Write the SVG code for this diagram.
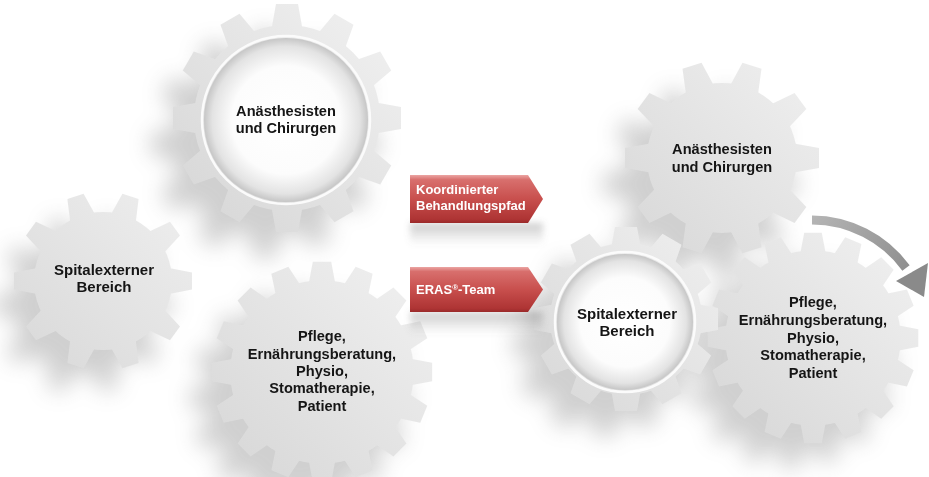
<svg xmlns="http://www.w3.org/2000/svg" width="929" height="477" viewBox="0 0 929 477">
<style>
.lbl{font-family:"Liberation Sans",Arial,Helvetica,sans-serif;font-weight:bold;font-size:14.6px;fill:#151515;text-anchor:middle}
.lbl15{font-size:15px}
.alb{font-family:"Liberation Sans",Arial,Helvetica,sans-serif;font-weight:bold;font-size:13px;fill:#ffffff}
.gearface{fill:url(#gearFill)}
</style>
<defs>
  <linearGradient id="gearFill" gradientUnits="userSpaceOnUse" x1="-90" y1="90" x2="90" y2="-90">
    <stop offset="0" stop-color="#d8d8d8"/>
    <stop offset="1" stop-color="#efefef"/>
  </linearGradient>
  <radialGradient id="dish" cx="0.5" cy="0.5" r="0.5">
    <stop offset="0" stop-color="#ffffff"/>
    <stop offset="0.66" stop-color="#fcfcfc"/>
    <stop offset="0.9" stop-color="#e3e3e3"/>
    <stop offset="1" stop-color="#c6c6c6"/>
  </radialGradient>
  <linearGradient id="red" x1="0" y1="0" x2="0" y2="1">
    <stop offset="0" stop-color="#eba5a3"/>
    <stop offset="0.1" stop-color="#d86f6d"/>
    <stop offset="0.5" stop-color="#c84f4d"/>
    <stop offset="0.92" stop-color="#ae3434"/>
    <stop offset="1" stop-color="#9a2a2a"/>
  </linearGradient>
  <linearGradient id="refl" x1="0" y1="0" x2="0" y2="1">
    <stop offset="0" stop-color="#707070" stop-opacity="0.35"/>
    <stop offset="1" stop-color="#707070" stop-opacity="0"/>
  </linearGradient>
  <linearGradient id="grayArrow" gradientUnits="userSpaceOnUse" x1="812" y1="220" x2="920" y2="290">
    <stop offset="0" stop-color="#b4b4b4"/>
    <stop offset="1" stop-color="#888888"/>
  </linearGradient>
  <filter id="soft" x="-50%" y="-50%" width="200%" height="200%">
    <feGaussianBlur stdDeviation="11"/>
  </filter>
  <filter id="soft2" x="-20%" y="-50%" width="140%" height="200%">
    <feGaussianBlur stdDeviation="3"/>
  </filter>

  <!-- gear A: 12 teeth, large -->
  <path id="tA" d="M89,-15.5L114,-11L114,11L89,15.5Z"/>
  <g id="gA">
    <circle r="93"/>
    <use href="#tA"/><use href="#tA" transform="rotate(30)"/><use href="#tA" transform="rotate(60)"/>
    <use href="#tA" transform="rotate(90)"/><use href="#tA" transform="rotate(120)"/><use href="#tA" transform="rotate(150)"/>
    <use href="#tA" transform="rotate(180)"/><use href="#tA" transform="rotate(210)"/><use href="#tA" transform="rotate(240)"/>
    <use href="#tA" transform="rotate(270)"/><use href="#tA" transform="rotate(300)"/><use href="#tA" transform="rotate(330)"/>
  </g>
  <!-- gear B: 10 teeth, left small -->
  <path id="tB" d="M66,-13L89,-8.5L89,8.5L66,13Z"/>
  <g id="gB">
    <circle r="69"/>
    <use href="#tB"/><use href="#tB" transform="rotate(36)"/><use href="#tB" transform="rotate(72)"/>
    <use href="#tB" transform="rotate(108)"/><use href="#tB" transform="rotate(144)"/><use href="#tB" transform="rotate(180)"/>
    <use href="#tB" transform="rotate(216)"/><use href="#tB" transform="rotate(252)"/><use href="#tB" transform="rotate(288)"/>
    <use href="#tB" transform="rotate(324)"/>
  </g>
  <!-- gear C: 10 teeth, right top -->
  <path id="tC" d="M72,-14.5L97,-10L97,10L72,14.5Z"/>
  <g id="gC">
    <circle r="75"/>
    <use href="#tC"/><use href="#tC" transform="rotate(36)"/><use href="#tC" transform="rotate(72)"/>
    <use href="#tC" transform="rotate(108)"/><use href="#tC" transform="rotate(144)"/><use href="#tC" transform="rotate(180)"/>
    <use href="#tC" transform="rotate(216)"/><use href="#tC" transform="rotate(252)"/><use href="#tC" transform="rotate(288)"/>
    <use href="#tC" transform="rotate(324)"/>
  </g>
  <!-- gear D: 16 teeth -->
  <path id="tD" d="M87,-13L108,-9L108,9L87,13Z"/>
  <g id="gD">
    <circle r="90"/>
    <use href="#tD"/><use href="#tD" transform="rotate(22.5)"/><use href="#tD" transform="rotate(45)"/><use href="#tD" transform="rotate(67.5)"/>
    <use href="#tD" transform="rotate(90)"/><use href="#tD" transform="rotate(112.5)"/><use href="#tD" transform="rotate(135)"/><use href="#tD" transform="rotate(157.5)"/>
    <use href="#tD" transform="rotate(180)"/><use href="#tD" transform="rotate(202.5)"/><use href="#tD" transform="rotate(225)"/><use href="#tD" transform="rotate(247.5)"/>
    <use href="#tD" transform="rotate(270)"/><use href="#tD" transform="rotate(292.5)"/><use href="#tD" transform="rotate(315)"/><use href="#tD" transform="rotate(337.5)"/>
  </g>
  <!-- gear E: 12 teeth, right ring gear -->
  <path id="tE" d="M73,-14.5L92,-11L92,11L73,14.5Z"/>
  <g id="gE">
    <circle r="76"/>
    <use href="#tE"/><use href="#tE" transform="rotate(30)"/><use href="#tE" transform="rotate(60)"/>
    <use href="#tE" transform="rotate(90)"/><use href="#tE" transform="rotate(120)"/><use href="#tE" transform="rotate(150)"/>
    <use href="#tE" transform="rotate(180)"/><use href="#tE" transform="rotate(210)"/><use href="#tE" transform="rotate(240)"/>
    <use href="#tE" transform="rotate(270)"/><use href="#tE" transform="rotate(300)"/><use href="#tE" transform="rotate(330)"/>
  </g>

  <mask id="mA" maskUnits="userSpaceOnUse" x="-140" y="-140" width="280" height="280"><use href="#gA" fill="#ffffff"/></mask>
  <mask id="mB" maskUnits="userSpaceOnUse" x="-140" y="-140" width="280" height="280"><use href="#gB" fill="#ffffff"/></mask>
  <mask id="mC" maskUnits="userSpaceOnUse" x="-140" y="-140" width="280" height="280"><use href="#gC" fill="#ffffff"/></mask>
  <mask id="mD" maskUnits="userSpaceOnUse" x="-140" y="-140" width="280" height="280"><use href="#gD" fill="#ffffff"/></mask>
  <mask id="mE" maskUnits="userSpaceOnUse" x="-140" y="-140" width="280" height="280"><use href="#gE" fill="#ffffff"/></mask>
</defs>

<rect width="929" height="477" fill="#ffffff"/>

<!-- soft drop shadows of the gears -->
<g id="shadows" filter="url(#soft)" fill="#7c7c7c" opacity="0.36">
  <use href="#gB" transform="translate(83,305)"/>
  <use href="#gA" transform="translate(265,144)"/>
  <use href="#gD" transform="translate(300,398) scale(1.02)"/>
  <use href="#gC" transform="translate(700,184)"/>
  <use href="#gD" transform="translate(791,363) scale(0.975)"/>
  <use href="#gE" transform="translate(605,344)"/>
</g>

<g id="gear-spitalextern-left">
  <g transform="translate(103,281)">
    <rect class="gearface" x="-130" y="-130" width="260" height="260" mask="url(#mB)"/>
  </g>
  <text class="lbl lbl15" x="104" y="274.5">Spitalexterner</text>
  <text class="lbl lbl15" x="104" y="292">Bereich</text>
</g>

<g id="gear-anaesthesisten-left">
  <g transform="translate(287,118)">
    <rect class="gearface" x="-130" y="-130" width="260" height="260" mask="url(#mA)"/>
    <circle cx="-1" cy="2" r="84" fill="none" stroke="#fbfbfb" stroke-width="2.5"/>
    <circle cx="-1" cy="2" r="82" fill="url(#dish)"/>
  </g>
  <text class="lbl" x="286" y="116">Anästhesisten</text>
  <text class="lbl" x="286" y="133">und Chirurgen</text>
</g>

<g id="gear-pflege-left">
  <g transform="translate(322,372) scale(1.02)">
    <rect class="gearface" x="-130" y="-130" width="260" height="260" mask="url(#mD)"/>
  </g>
  <text class="lbl" x="322" y="341.3">Pflege,</text>
  <text class="lbl" x="322" y="358.7">Ernährungsberatung,</text>
  <text class="lbl" x="322" y="376">Physio,</text>
  <text class="lbl" x="322" y="393.4">Stomatherapie,</text>
  <text class="lbl" x="322" y="410.7">Patient</text>
</g>

<g id="gear-anaesthesisten-right">
  <g transform="translate(722,158)">
    <rect class="gearface" x="-130" y="-130" width="260" height="260" mask="url(#mC)"/>
  </g>
  <text class="lbl" x="722" y="154">Anästhesisten</text>
  <text class="lbl" x="722" y="172">und Chirurgen</text>
</g>

<g id="gear-pflege-right">
  <g transform="translate(813,338) scale(0.975)">
    <rect class="gearface" x="-130" y="-130" width="260" height="260" mask="url(#mD)"/>
  </g>
  <text class="lbl" x="813" y="307.3">Pflege,</text>
  <text class="lbl" x="813" y="325">Ernährungsberatung,</text>
  <text class="lbl" x="813" y="342.7">Physio,</text>
  <text class="lbl" x="813" y="360.4">Stomatherapie,</text>
  <text class="lbl" x="813" y="378">Patient</text>
</g>

<g id="gear-spitalextern-right">
  <g transform="translate(626,319)">
    <rect class="gearface" x="-130" y="-130" width="260" height="260" mask="url(#mE)"/>
    <circle cx="-1" cy="3" r="70" fill="none" stroke="#fbfbfb" stroke-width="2.5"/>
    <circle cx="-1" cy="3" r="68" fill="url(#dish)"/>
  </g>
  <text class="lbl lbl15" x="627" y="318.5">Spitalexterner</text>
  <text class="lbl lbl15" x="627" y="336">Bereich</text>
</g>

<g id="arrow-behandlungspfad">
  <rect x="410" y="223" width="133" height="22" fill="url(#refl)" filter="url(#soft2)"/>
  <path d="M410,175H528L543,199L528,223H410Z" fill="url(#red)"/>
  <text class="alb" x="416" y="194">Koordinierter</text>
  <text class="alb" x="416" y="209.5">Behandlungspfad</text>
</g>

<g id="arrow-eras-team">
  <rect x="410" y="312" width="133" height="22" fill="url(#refl)" filter="url(#soft2)"/>
  <path d="M410,267H528L543,289.5L528,312H410Z" fill="url(#red)"/>
  <text class="alb" x="416" y="294">ERAS<tspan font-size="8" dy="-4">®</tspan><tspan dy="4">-Team</tspan></text>
</g>

<g id="connectors">
  <path d="M812,220A117,117 0 0 1 906,268" fill="none" stroke="url(#grayArrow)" stroke-width="9"/>
  <path d="M896,281L928,263L924,297Z" fill="#8a8a8a"/>
</g>
</svg>
